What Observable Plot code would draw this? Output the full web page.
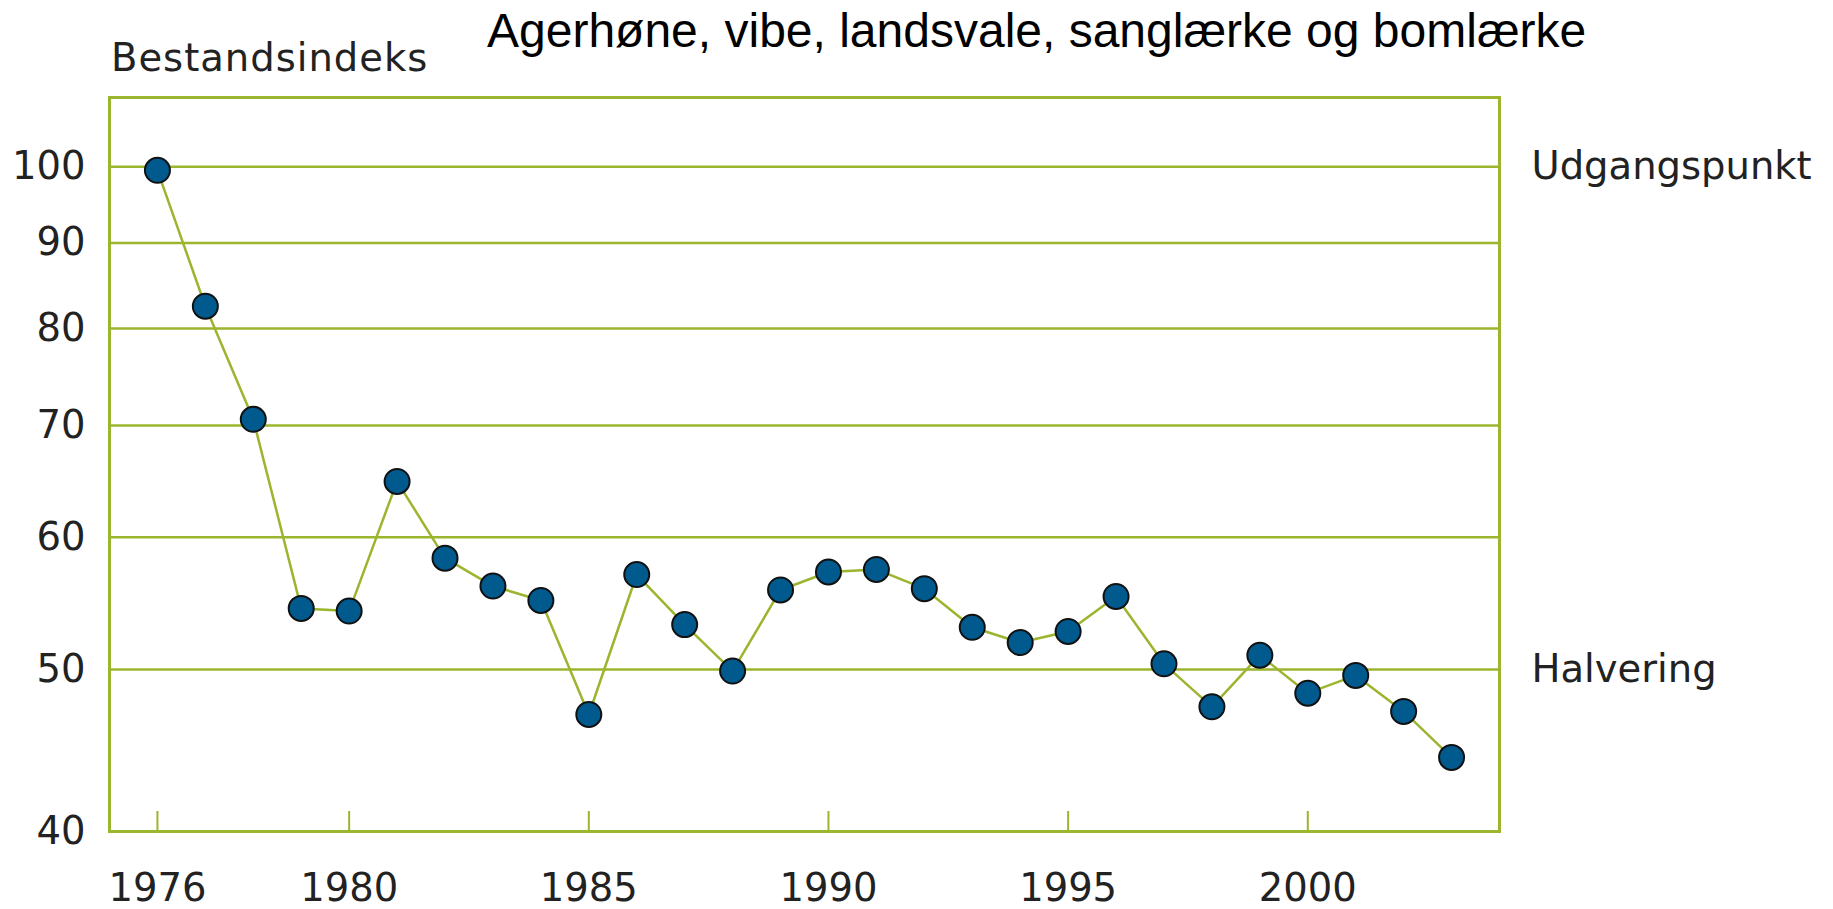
<!DOCTYPE html>
<html>
<head>
<meta charset="utf-8">
<script src="https://cdn.jsdelivr.net/npm/d3@7"></script>
<script src="https://cdn.jsdelivr.net/npm/@observablehq/plot@0.6"></script>
<style>
  html, body { margin: 0; padding: 0; background: #fff; }
  #wrap { position: relative; width: 1833px; height: 909px; overflow: hidden; }
  #title { position: absolute; left: 487px; top: 3px; font-family: "Liberation Sans", Arial, sans-serif; font-size: 48px; color: #000; white-space: nowrap; }
  #ylabel { position: absolute; left: 111px; top: 35px; font-family: "DejaVu Sans", Verdana, sans-serif; font-size: 38.5px; letter-spacing: 1px; color: #222; white-space: nowrap; }
  #chart { position: absolute; left: 0; top: 0; }
</style>
</head>
<body>
<div id="wrap">
  <div id="chart"></div>
  <div id="title">Agerhøne, vibe, landsvale, sanglærke og bomlærke</div>
  <div id="ylabel">Bestandsindeks</div>
</div>
<script>
const years = [1976,1977,1978,1979,1980,1981,1982,1983,1984,1985,1986,1987,1988,1989,1990,1991,1992,1993,1994,1995,1996,1997,1998,1999,2000,2001,2002,2003];
const values = [99.5,82.5,70.6,54.4,54.2,64.8,58.3,56.1,55.0,47.0,57.0,53.2,49.9,55.8,57.2,57.4,55.9,53.0,51.9,52.7,55.3,50.4,47.5,51.0,48.4,49.6,47.2,44.3];
const xTickYears = [1976,1980,1985,1990,1995,2000];
const yTickValues = [40,50,60,70,80,90,100];
const gridValues = [50,60,70,80,90,100];
const refLabels = ["Udgangspunkt","Halvering"];
const refValues = [100,50];

const green = "#9bb52e";
const blue = "#005a8e";

const data = years.map((y, i) => ({year: y, value: values[i]}));
const refs = refLabels.map((t, i) => ({label: t, value: refValues[i]}));

const chart = Plot.plot({
  width: 1833,
  height: 909,
  marginLeft: 109,
  marginRight: 334,
  marginTop: 97,
  marginBottom: 78,
  style: {fontFamily: "'DejaVu Sans', Verdana, sans-serif", fontSize: "38.5px", color: "#222", background: "#fff", overflow: "visible"},
  x: {domain: [1975, 2004]},
  y: {type: "log", domain: [40, 110]},
  marks: [
    Plot.ruleY(gridValues, {y: d => d, stroke: green, strokeWidth: 2.5}),
    Plot.ruleX(xTickYears, {x: d => d, insetTop: 714, stroke: green, strokeWidth: 2}),
    Plot.frame({stroke: green, strokeWidth: 3}),
    Plot.axisY({ticks: yTickValues, tickSize: 0, tickPadding: 24, tickFormat: d => String(d), label: null, fontSize: 38.5}),
    Plot.axisX({ticks: xTickYears, tickSize: 0, tickPadding: 42, tickFormat: d => String(d), label: null, fontSize: 38.5}),
    Plot.line(data, {x: "year", y: "value", stroke: green, strokeWidth: 2.5}),
    Plot.dot(data, {x: "year", y: "value", r: 12.5, fill: blue, stroke: "#111", strokeWidth: 2}),
    Plot.text(refs, {x: () => 2004, y: "value", text: "label", textAnchor: "start", dx: 32, fontSize: 38.5, fill: "#222", style: {letterSpacing: "1px"}})
  ]
});
document.getElementById("chart").appendChild(chart);
</script>
</body>
</html>
